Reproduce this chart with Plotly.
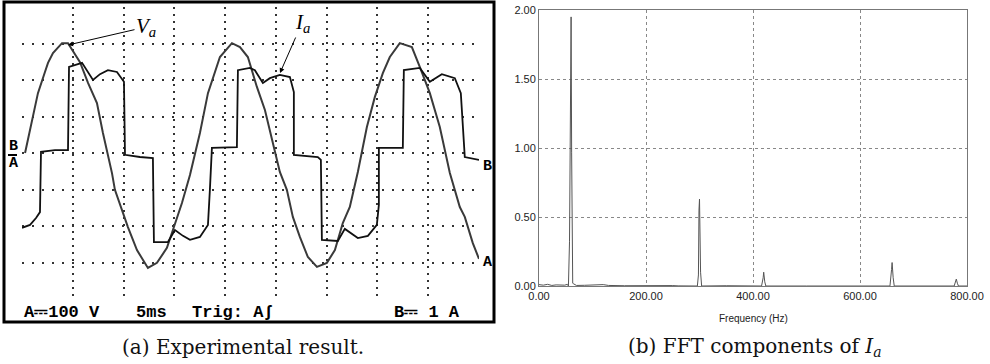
import plotly.graph_objects as go

W, H = 990, 364

# ---------- (a) oscilloscope data: time in ms, voltage in V, current in A ----------
v_time = [0.30, 1.57, 2.26, 2.56, 3.05, 3.94, 4.53, 5.71, 6.50, 7.38, 7.97, 8.86, 9.15, 9.94,
          10.43, 11.32, 12.40, 13.29, 14.27, 14.86, 15.75, 16.54, 17.52, 18.31, 18.80, 19.49,
          20.67, 21.46, 22.24, 23.13, 23.92, 24.61, 25.39, 26.08, 26.67, 27.36, 28.15, 29.04,
          30.02, 30.81, 31.59, 32.28, 33.07, 33.96, 34.74, 35.53, 36.22, 37.20, 38.39, 39.17,
          40.16, 41.14, 42.13, 43.11, 43.60, 44.39, 45.00]
v_volts = [0, 164, 222, 247, 274, 301, 301, 249, 192, 137, 55, -55, -101, -164,
           -203, -266, -315, -301, -260, -211, -137, -60, 55, 164, 206, 263,
           301, 290, 263, 181, 118, 36, -52, -101, -175, -230, -285, -312,
           -301, -266, -192, -148, -52, 71, 153, 219, 263, 301, 290, 236,
           164, 71, -55, -148, -175, -247, -290]

i_time = [0.00, 0.79, 1.38, 1.77, 1.87, 3.25, 4.53, 4.63, 5.91, 6.99, 7.68, 8.46, 9.35, 10.04,
          10.14, 11.61, 12.89, 12.99, 14.37, 15.06, 15.85, 16.54, 17.52, 18.31, 18.50, 18.70,
          21.16, 21.26, 22.44, 22.93, 23.72, 24.41, 25.39, 26.38, 26.77, 26.77, 29.13, 29.43,
          29.53, 31.10, 31.79, 32.48, 33.07, 34.06, 34.94, 35.14, 35.14, 37.50, 37.60, 39.17,
          40.16, 41.34, 42.62, 43.21, 43.60, 45.00]
i_amps = [-2.05, -1.97, -1.78, -1.62, 0.03, 0.08, 0.08, 2.36, 2.47, 2.00, 2.16, 2.27, 2.22, 1.95,
          -0.05, -0.11, -0.14, -2.44, -2.44, -2.11, -2.27, -2.38, -2.30, -1.97, -1.01, 0.14,
          0.16, 2.27, 2.33, 2.27, 1.92, 2.05, 2.14, 2.08, 1.67, -0.05, -0.11, -0.19,
          -2.38, -2.41, -2.08, -2.22, -2.33, -2.27, -1.97, -1.42, 0.14, 0.14, 2.27, 2.33,
          1.95, 2.16, 2.05, 1.64, -0.11, -0.19]

volts_per_div = 100
amps_per_div = 1
time_ticks = [0, 5, 10, 15, 20, 25, 30, 35, 40, 45]
div_ticks = [-4, -3, -2, -1, 0, 1, 2, 3, 4]

# ---------- (b) FFT data ----------
fft_freq = [0, 8, 16, 24, 32, 40, 48, 53, 55, 57, 59, 60, 61, 63, 65, 70, 85, 100, 110, 120, 130,
            160, 250, 260, 296, 298, 299, 300, 302, 304, 350, 416, 419, 420, 422, 424, 500,
            656, 659, 660, 662, 664, 776, 779, 780, 782, 784, 800]
fft_amp = [0.010, 0.006, 0.012, 0.004, 0.008, 0.005, 0.006, 0.012, 0.0, 0.32, 1.62, 1.95, 0.97,
           0.02, 0.015, 0.004, 0.005, 0.008, 0.006, 0.010, 0.004,
           0.002, 0.003, 0.001, 0.0, 0.08, 0.55, 0.63, 0.10, 0.0, 0.002, 0.0, 0.06, 0.10, 0.03,
           0.0, 0.0, 0.0, 0.12, 0.17, 0.06, 0.0, 0.0, 0.03, 0.05, 0.02, 0.0, 0.0]
freq_ticks = [0, 200, 400, 600, 800]
amp_ticks = [0, 0.5, 1.0, 1.5, 2.0]


def px(x):
    return x / W


def py(y):
    return 1 - y / H


fig = go.Figure()

fig.add_trace(go.Scatter(x=v_time, y=[v / volts_per_div for v in v_volts], mode="lines",
                         line=dict(color="#3a3a3a", width=2), xaxis="x", yaxis="y",
                         showlegend=False, hoverinfo="skip"))
fig.add_trace(go.Scatter(x=i_time, y=[i / amps_per_div for i in i_amps], mode="lines",
                         line=dict(color="#111111", width=1.8), xaxis="x", yaxis="y",
                         showlegend=False, hoverinfo="skip"))
fig.add_trace(go.Scatter(x=fft_freq, y=fft_amp, mode="lines",
                         line=dict(color="#555555", width=1), xaxis="x2", yaxis="y2",
                         showlegend=False, hoverinfo="skip"))

mono = dict(family="Liberation Mono", size=17, color="black")
mark = dict(family="Liberation Mono", size=15, color="black")
annotations = [
    dict(text="<b>A⎓100 V</b>", x=px(22), y=py(312), xanchor="left", yanchor="middle", font=mono),
    dict(text="<b>5ms</b>", x=px(134), y=py(312), xanchor="left", yanchor="middle", font=mono),
    dict(text="<b>Trig: Aʃ</b>", x=px(190), y=py(312), xanchor="left", yanchor="middle", font=mono),
    dict(text="<b>B⎓ 1 A</b>", x=px(392), y=py(312), xanchor="left", yanchor="middle", font=mono),
    dict(text="<b>B</b>", x=px(13), y=py(146), xanchor="center", yanchor="middle", font=mark),
    dict(text="<b>A</b>", x=px(13), y=py(164), xanchor="center", yanchor="middle", font=mark),
    dict(text="<b>B</b>", x=px(487), y=py(167), xanchor="center", yanchor="middle", font=mark),
    dict(text="<b>A</b>", x=px(487), y=py(262), xanchor="center", yanchor="middle", font=mark),
    dict(text="<i>V<sub>a</sub></i>", x=px(68), y=py(45), ax=78, ay=-18,
         font=dict(family="Liberation Serif", size=21, color="black"),
         showarrow=True, arrowhead=2, arrowsize=1, arrowwidth=1, arrowcolor="black"),
    dict(text="<i>I<sub>a</sub></i>", x=px(280), y=py(73), ax=22, ay=-50,
         font=dict(family="Liberation Serif", size=21, color="black"),
         showarrow=True, arrowhead=2, arrowsize=1, arrowwidth=1, arrowcolor="black"),
    dict(text="Frequency (Hz)", x=px(753), y=py(318), xanchor="center", yanchor="middle",
         font=dict(family="Liberation Sans", size=10, color="#222")),
    dict(text="(a) Experimental result.", x=px(243), y=py(347), xanchor="center", yanchor="middle",
         font=dict(family="DejaVu Serif", size=20, color="#111")),
    dict(text="(b) FFT components of <i>I<sub>a</sub></i>", x=px(755), y=py(347), xanchor="center",
         yanchor="middle", font=dict(family="DejaVu Serif", size=20, color="#111")),
]
for a in annotations:
    a.setdefault("xref", "paper")
    a.setdefault("yref", "paper")
    a.setdefault("showarrow", False)

shapes = [
    dict(type="rect", xref="paper", yref="paper", x0=px(4), x1=px(494), y0=py(322), y1=py(2),
         line=dict(color="black", width=3)),
    dict(type="line", xref="paper", yref="paper", x0=px(8), x1=px(17), y0=py(155), y1=py(155),
         line=dict(color="black", width=2)),
]

fig.update_layout(
    width=W, height=H, margin=dict(l=0, r=0, t=0, b=0, pad=0, autoexpand=False),
    paper_bgcolor="white", plot_bgcolor="white",
    annotations=annotations, shapes=shapes,
    xaxis=dict(domain=[px(22), px(479)], range=[0, 45], tickvals=time_ticks, showticklabels=False,
               showgrid=True, gridcolor="#333", gridwidth=1.5, griddash="2px,5px", zeroline=False,
               showline=False, ticks="", anchor="y", automargin=False),
    yaxis=dict(domain=[py(299), py(7)], range=[-4, 4], tickvals=div_ticks, showticklabels=False,
               showgrid=True, gridcolor="#333", gridwidth=1.5, griddash="2px,8px", zeroline=False,
               showline=False, ticks="", anchor="x", automargin=False),
    xaxis2=dict(domain=[px(539), px(967)], range=[0, 800], tickvals=freq_ticks, tickformat=".2f",
                showgrid=True, gridcolor="#888", gridwidth=1, griddash="dot", zeroline=False,
                showline=True, mirror=True, linecolor="#777", linewidth=1, ticks="",
                tickfont=dict(family="Liberation Sans", size=11, color="#222"), anchor="y2",
                automargin=False),
    yaxis2=dict(domain=[py(286), py(10)], range=[0, 2], tickvals=amp_ticks, tickformat=".2f",
                showgrid=True, gridcolor="#888", gridwidth=1, griddash="dot", zeroline=False,
                showline=True, mirror=True, linecolor="#777", linewidth=1, ticks="",
                tickfont=dict(family="Liberation Sans", size=11, color="#222"), anchor="x2",
                automargin=False),
)

fig.write_html("out.html", config={"displayModeBar": False},
               post_script="document.body.style.margin='0';document.body.style.overflow='hidden';")
